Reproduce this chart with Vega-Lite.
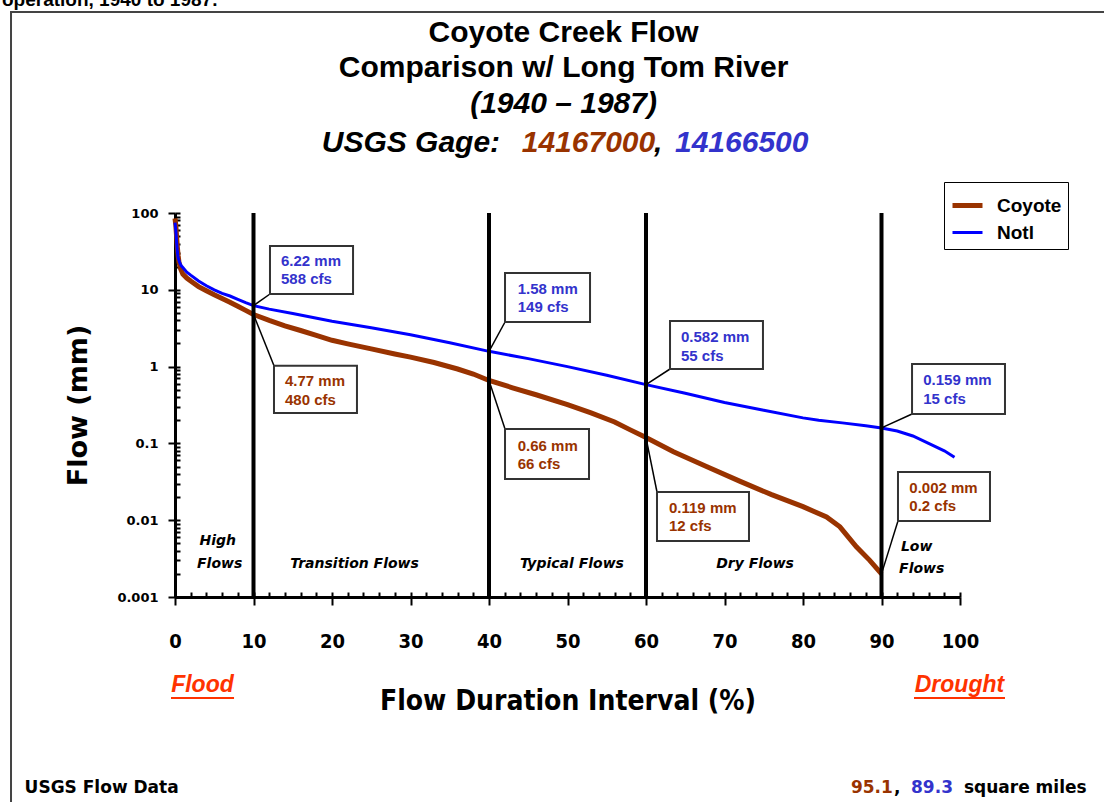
{
  "$schema": "https://vega.github.io/schema/vega-lite/v6.json",
  "width": 785,
  "height": 384,
  "autosize": {"type": "none"},
  "padding": {"left": 175, "top": 213, "right": 144, "bottom": 205},
  "background": "white",
  "config": {"view": {"stroke": null}, "axis": {"grid": false}},
  "resolve": {"axis": {"x": "independent", "y": "independent"}},
  "datasets": {
    "curves": [
      {"series": "Coyote", "pct": 0, "flow": 85}, {"series": "Coyote", "pct": 0.1, "flow": 70}, {"series": "Coyote", "pct": 0.2, "flow": 50}, {"series": "Coyote", "pct": 0.3, "flow": 36}, {"series": "Coyote", "pct": 0.4, "flow": 28}, {"series": "Coyote", "pct": 0.5, "flow": 23}, {"series": "Coyote", "pct": 0.7, "flow": 19}, {"series": "Coyote", "pct": 1, "flow": 16}, {"series": "Coyote", "pct": 1.5, "flow": 14.2}, {"series": "Coyote", "pct": 2, "flow": 13}, {"series": "Coyote", "pct": 3, "flow": 11}, {"series": "Coyote", "pct": 4, "flow": 9.7}, {"series": "Coyote", "pct": 5, "flow": 8.6}, {"series": "Coyote", "pct": 6, "flow": 7.7}, {"series": "Coyote", "pct": 7, "flow": 6.9}, {"series": "Coyote", "pct": 8, "flow": 6.1}, {"series": "Coyote", "pct": 9, "flow": 5.4}, {"series": "Coyote", "pct": 10, "flow": 4.77}, {"series": "Coyote", "pct": 12, "flow": 4.0}, {"series": "Coyote", "pct": 14, "flow": 3.4}, {"series": "Coyote", "pct": 16, "flow": 2.95}, {"series": "Coyote", "pct": 18, "flow": 2.55}, {"series": "Coyote", "pct": 20, "flow": 2.2}, {"series": "Coyote", "pct": 22, "flow": 1.98}, {"series": "Coyote", "pct": 25, "flow": 1.7}, {"series": "Coyote", "pct": 28, "flow": 1.46}, {"series": "Coyote", "pct": 30, "flow": 1.33}, {"series": "Coyote", "pct": 33, "flow": 1.13}, {"series": "Coyote", "pct": 36, "flow": 0.93}, {"series": "Coyote", "pct": 38, "flow": 0.8}, {"series": "Coyote", "pct": 40, "flow": 0.66}, {"series": "Coyote", "pct": 43, "flow": 0.53}, {"series": "Coyote", "pct": 46, "flow": 0.43}, {"series": "Coyote", "pct": 50, "flow": 0.32}, {"series": "Coyote", "pct": 53, "flow": 0.25}, {"series": "Coyote", "pct": 56, "flow": 0.19}, {"series": "Coyote", "pct": 58, "flow": 0.15}, {"series": "Coyote", "pct": 60, "flow": 0.119}, {"series": "Coyote", "pct": 63.5, "flow": 0.078}, {"series": "Coyote", "pct": 67.7, "flow": 0.05}, {"series": "Coyote", "pct": 72, "flow": 0.032}, {"series": "Coyote", "pct": 76, "flow": 0.0215}, {"series": "Coyote", "pct": 80, "flow": 0.015}, {"series": "Coyote", "pct": 83, "flow": 0.011}, {"series": "Coyote", "pct": 84.7, "flow": 0.0082}, {"series": "Coyote", "pct": 86.8, "flow": 0.0045}, {"series": "Coyote", "pct": 88.5, "flow": 0.003}, {"series": "Coyote", "pct": 90, "flow": 0.002},
      {"series": "Notl", "pct": 0, "flow": 75}, {"series": "Notl", "pct": 0.1, "flow": 60}, {"series": "Notl", "pct": 0.2, "flow": 42}, {"series": "Notl", "pct": 0.3, "flow": 31}, {"series": "Notl", "pct": 0.4, "flow": 26}, {"series": "Notl", "pct": 0.6, "flow": 22.5}, {"series": "Notl", "pct": 0.8, "flow": 20.5}, {"series": "Notl", "pct": 1, "flow": 19.5}, {"series": "Notl", "pct": 1.5, "flow": 17}, {"series": "Notl", "pct": 2, "flow": 15.5}, {"series": "Notl", "pct": 3, "flow": 13}, {"series": "Notl", "pct": 4, "flow": 11.3}, {"series": "Notl", "pct": 5, "flow": 10}, {"series": "Notl", "pct": 6, "flow": 9}, {"series": "Notl", "pct": 7, "flow": 8.3}, {"series": "Notl", "pct": 8, "flow": 7.5}, {"series": "Notl", "pct": 9, "flow": 6.8}, {"series": "Notl", "pct": 10, "flow": 6.22}, {"series": "Notl", "pct": 12, "flow": 5.6}, {"series": "Notl", "pct": 15, "flow": 4.9}, {"series": "Notl", "pct": 20, "flow": 3.9}, {"series": "Notl", "pct": 25, "flow": 3.2}, {"series": "Notl", "pct": 30, "flow": 2.6}, {"series": "Notl", "pct": 35, "flow": 2.05}, {"series": "Notl", "pct": 40, "flow": 1.58}, {"series": "Notl", "pct": 45, "flow": 1.27}, {"series": "Notl", "pct": 50, "flow": 1.0}, {"series": "Notl", "pct": 55, "flow": 0.77}, {"series": "Notl", "pct": 60, "flow": 0.582}, {"series": "Notl", "pct": 65, "flow": 0.45}, {"series": "Notl", "pct": 70, "flow": 0.34}, {"series": "Notl", "pct": 75, "flow": 0.27}, {"series": "Notl", "pct": 80, "flow": 0.215}, {"series": "Notl", "pct": 82, "flow": 0.2}, {"series": "Notl", "pct": 85, "flow": 0.185}, {"series": "Notl", "pct": 88, "flow": 0.17}, {"series": "Notl", "pct": 90, "flow": 0.159}, {"series": "Notl", "pct": 92, "flow": 0.145}, {"series": "Notl", "pct": 94, "flow": 0.125}, {"series": "Notl", "pct": 96, "flow": 0.1}, {"series": "Notl", "pct": 98, "flow": 0.08}, {"series": "Notl", "pct": 99.3, "flow": 0.066}
    ],
    "zones": [{"pct": 10}, {"pct": 40}, {"pct": 60}, {"pct": 90}],
    "callouts": [
      {"series": "Notl", "pct": 10, "flow": 6.22, "bx1": 12.1, "bx2": 22.68, "by1": 37.18, "by2": 8.818, "lx": 12.1, "ly": 8.818, "tx": 13.5, "t1y": 23.71, "t2y": 13.82, "line1": "6.22 mm", "line2": "588 cfs"},
      {"series": "Coyote", "pct": 10, "flow": 4.77, "bx1": 12.61, "bx2": 23.18, "by1": 1.028, "by2": 0.249, "lx": 12.61, "ly": 1.028, "tx": 14.01, "t1y": 0.6494, "t2y": 0.3673, "line1": "4.77 mm", "line2": "480 cfs"},
      {"series": "Notl", "pct": 40, "flow": 1.58, "bx1": 42.04, "bx2": 52.87, "by1": 16.55, "by2": 3.808, "lx": 42.04, "ly": 3.808, "tx": 43.66, "t1y": 10.15, "t2y": 5.917, "line1": "1.58 mm", "line2": "149 cfs"},
      {"series": "Coyote", "pct": 40, "flow": 0.66, "bx1": 42.04, "bx2": 52.74, "by1": 0.154, "by2": 0.0344, "lx": 42.04, "ly": 0.154, "tx": 43.66, "t1y": 0.0925, "t2y": 0.05393, "line1": "0.66 mm", "line2": "66 cfs"},
      {"series": "Notl", "pct": 60, "flow": 0.582, "bx1": 63.06, "bx2": 74.9, "by1": 3.925, "by2": 0.9306, "lx": 63.06, "ly": 0.9306, "tx": 64.46, "t1y": 2.407, "t2y": 1.387, "line1": "0.582 mm", "line2": "55 cfs"},
      {"series": "Coyote", "pct": 60, "flow": 0.119, "bx1": 61.4, "bx2": 73.12, "by1": 0.02329, "by2": 0.00536, "lx": 61.4, "ly": 0.02329, "tx": 62.93, "t1y": 0.01442, "t2y": 0.008405, "line1": "0.119 mm", "line2": "12 cfs"},
      {"series": "Notl", "pct": 90, "flow": 0.159, "bx1": 93.89, "bx2": 105.73, "by1": 1.081, "by2": 0.2415, "lx": 93.89, "ly": 0.2415, "tx": 95.32, "t1y": 0.669, "t2y": 0.3786, "line1": "0.159 mm", "line2": "15 cfs"},
      {"series": "Coyote", "pct": 90, "flow": 0.002, "bx1": 92.1, "bx2": 103.82, "by1": 0.04242, "by2": 0.009763, "lx": 92.1, "ly": 0.009763, "tx": 93.54, "t1y": 0.02603, "t2y": 0.01531, "line1": "0.002 mm", "line2": "0.2 cfs"}
    ],
    "regions": [
      {"text": "High", "pct": 5.44, "flow": 0.00536},
      {"text": "Flows", "pct": 5.69, "flow": 0.00272},
      {"text": "Transition Flows", "pct": 22.87, "flow": 0.00269},
      {"text": "Typical Flows", "pct": 50.57, "flow": 0.00269},
      {"text": "Dry Flows", "pct": 73.89, "flow": 0.00269},
      {"text": "Low", "pct": 94.48, "flow": 0.00445},
      {"text": "Flows", "pct": 95.12, "flow": 0.00232}
    ],
    "ends": [
      {"text": "Flood", "pct": 3.5, "flow": 7.15e-5, "u1": -0.51, "u2": 7.52, "uy": 4.84e-5},
      {"text": "Drought", "pct": 99.93, "flow": 7.15e-5, "u1": 94.14, "u2": 105.73, "uy": 4.84e-5}
    ]
  },
  "layer": [
    {
      "data": {"values": [{"x1": -20.89, "x2": 119.1, "y1": 41420, "y2": 1.685e-6}]},
      "mark": {"type": "rect", "filled": false, "color": "#444444", "strokeWidth": 2},
      "encoding": {
        "x": {"field": "x1", "type": "quantitative", "axis": null},
        "x2": {"field": "x2"},
        "y": {"field": "y1", "type": "quantitative", "axis": null},
        "y2": {"field": "y2"}
      }
    },
    {
      "data": {"name": "curves"},
      "mark": {"type": "line", "interpolate": "linear"},
      "encoding": {
        "x": {
          "field": "pct", "type": "quantitative",
          "scale": {"domain": [0, 100], "nice": false, "zero": false},
          "axis": {
            "orient": "bottom", "values": [0, 10, 20, 30, 40, 50, 60, 70, 80, 90, 100],
            "tickSize": 8, "tickWidth": 2, "tickColor": "black",
            "domainColor": "black", "domainWidth": 3,
            "labelFont": "DejaVu Sans Condensed", "labelFontSize": 20, "labelFontWeight": "bold", "labelColor": "black",
            "labelPadding": 26, "labelFlush": false, "labelOverlap": false,
            "title": "Flow Duration Interval (%)", "titleFont": "DejaVu Sans Condensed", "titleFontSize": 28, "titleFontWeight": "bold", "titleColor": "black", "titlePadding": 36
          }
        },
        "y": {
          "field": "flow", "type": "quantitative",
          "scale": {"type": "log", "domain": [0.001, 100], "nice": false},
          "axis": {
            "orient": "left", "values": [0.001, 0.01, 0.1, 1, 10, 100], "format": "~g",
            "tickSize": 7, "tickWidth": 2, "tickColor": "black",
            "domainColor": "black", "domainWidth": 3,
            "labelFont": "DejaVu Sans", "labelFontSize": 13, "labelFontWeight": "bold", "labelColor": "black",
            "labelPadding": 10, "labelOverlap": false,
            "title": "Flow  (mm)", "titleFont": "DejaVu Sans", "titleFontSize": 27, "titleFontWeight": "bold", "titleColor": "black", "titlePadding": 24
          }
        },
        "color": {
          "field": "series", "type": "nominal",
          "scale": {"domain": ["Coyote", "Notl"], "range": ["#993300", "#0000FF"]},
          "legend": {
            "orient": "none", "legendX": 769, "legendY": -31, "title": null,
            "symbolType": "stroke", "symbolSize": 900,
            "labelFont": "Liberation Sans", "labelFontSize": 19, "labelFontWeight": "bold", "labelColor": "black",
            "labelOffset": 12, "rowPadding": 0, "padding": 6,
            "strokeColor": "black", "fillColor": "white"
          }
        },
        "strokeWidth": {
          "field": "series", "type": "nominal",
          "scale": {"type": "ordinal", "domain": ["Coyote", "Notl"], "range": [5, 3]}
        }
      }
    },
    {
      "data": {"name": "curves"},
      "mark": {"type": "point", "opacity": 0},
      "encoding": {
        "x": {
          "field": "pct", "type": "quantitative",
          "axis": {
            "orient": "bottom", "values": [0, 2, 4, 6, 8, 10, 12, 14, 16, 18, 20, 22, 24, 26, 28, 30, 32, 34, 36, 38, 40, 42, 44, 46, 48, 50, 52, 54, 56, 58, 60, 62, 64, 66, 68, 70, 72, 74, 76, 78, 80, 82, 84, 86, 88, 90, 92, 94, 96, 98, 100],
            "tickSize": -5, "tickWidth": 2, "tickColor": "black", "labels": false, "domain": false, "title": null
          }
        },
        "y": {
          "field": "flow", "type": "quantitative",
          "axis": {
            "orient": "left", "values": [0.001, 0.002, 0.003, 0.004, 0.005, 0.006, 0.007, 0.008, 0.009, 0.01, 0.02, 0.03, 0.04, 0.05, 0.06, 0.07, 0.08, 0.09, 0.1, 0.2, 0.3, 0.4, 0.5, 0.6, 0.7, 0.8, 0.9, 1, 2, 3, 4, 5, 6, 7, 8, 9, 10, 20, 30, 40, 50, 60, 70, 80, 90, 100],
            "tickSize": -5, "tickWidth": 2, "tickColor": "black", "labels": false, "domain": false, "title": null
          }
        }
      }
    },
    {
      "data": {"name": "zones"},
      "mark": {"type": "rule", "color": "black", "strokeWidth": 4},
      "encoding": {"x": {"field": "pct", "type": "quantitative", "axis": null}}
    },
    {
      "data": {"name": "callouts"},
      "mark": {"type": "rule", "color": "black", "strokeWidth": 1.5},
      "encoding": {
        "x": {"field": "pct", "type": "quantitative", "axis": null},
        "y": {"field": "flow", "type": "quantitative", "axis": null},
        "x2": {"field": "lx"},
        "y2": {"field": "ly"}
      }
    },
    {
      "data": {"name": "callouts"},
      "mark": {"type": "rect", "fill": "white", "stroke": "#333333", "strokeWidth": 2},
      "encoding": {
        "x": {"field": "bx1", "type": "quantitative", "axis": null},
        "x2": {"field": "bx2"},
        "y": {"field": "by1", "type": "quantitative", "axis": null},
        "y2": {"field": "by2"}
      }
    },
    {
      "data": {"name": "callouts"},
      "mark": {"type": "text", "align": "left", "baseline": "middle", "font": "Liberation Sans", "fontSize": 15, "fontWeight": "bold"},
      "encoding": {
        "x": {"field": "tx", "type": "quantitative", "axis": null},
        "y": {"field": "t1y", "type": "quantitative", "axis": null},
        "text": {"field": "line1"},
        "color": {"condition": {"test": "datum.series === 'Notl'", "value": "#3333CC"}, "value": "#993300"}
      }
    },
    {
      "data": {"name": "callouts"},
      "mark": {"type": "text", "align": "left", "baseline": "middle", "font": "Liberation Sans", "fontSize": 15, "fontWeight": "bold"},
      "encoding": {
        "x": {"field": "tx", "type": "quantitative", "axis": null},
        "y": {"field": "t2y", "type": "quantitative", "axis": null},
        "text": {"field": "line2"},
        "color": {"condition": {"test": "datum.series === 'Notl'", "value": "#3333CC"}, "value": "#993300"}
      }
    },
    {
      "data": {"name": "regions"},
      "mark": {"type": "text", "align": "center", "baseline": "middle", "font": "DejaVu Sans", "fontSize": 14, "fontWeight": "bold", "fontStyle": "italic", "color": "black"},
      "encoding": {
        "x": {"field": "pct", "type": "quantitative", "axis": null},
        "y": {"field": "flow", "type": "quantitative", "axis": null},
        "text": {"field": "text"}
      }
    },
    {
      "data": {"name": "ends"},
      "mark": {"type": "text", "align": "center", "baseline": "middle", "font": "Liberation Sans", "fontSize": 23, "fontWeight": "bold", "fontStyle": "italic", "color": "#FF3300"},
      "encoding": {
        "x": {"field": "pct", "type": "quantitative", "axis": null},
        "y": {"field": "flow", "type": "quantitative", "axis": null},
        "text": {"field": "text"}
      }
    },
    {
      "data": {"name": "ends"},
      "mark": {"type": "rule", "color": "#FF3300", "strokeWidth": 2},
      "encoding": {
        "x": {"field": "u1", "type": "quantitative", "axis": null},
        "x2": {"field": "u2"},
        "y": {"field": "uy", "type": "quantitative", "axis": null}
      }
    },
    {
      "data": {"values": [
        {"text": "Coyote Creek Flow", "pct": 49.5, "flow": 17000},
        {"text": "Comparison w/ Long Tom River", "pct": 49.5, "flow": 5953}
      ]},
      "mark": {"type": "text", "align": "center", "baseline": "alphabetic", "font": "Liberation Sans", "fontSize": 30, "fontWeight": "bold", "color": "black"},
      "encoding": {
        "x": {"field": "pct", "type": "quantitative", "axis": null},
        "y": {"field": "flow", "type": "quantitative", "axis": null},
        "text": {"field": "text"}
      }
    },
    {
      "data": {"values": [{"text": "(1940 – 1987)", "pct": 49.5, "flow": 1987}]},
      "mark": {"type": "text", "align": "center", "baseline": "alphabetic", "font": "Liberation Sans", "fontSize": 30, "fontWeight": "bold", "fontStyle": "italic", "color": "black"},
      "encoding": {
        "x": {"field": "pct", "type": "quantitative", "axis": null},
        "y": {"field": "flow", "type": "quantitative", "axis": null},
        "text": {"field": "text"}
      }
    },
    {
      "data": {"values": [
        {"text": "USGS Gage:", "pct": 18.69, "flow": 628.5},
        {"text": "14167000", "pct": 44.17, "flow": 628.5},
        {"text": ",", "pct": 61.02, "flow": 628.5},
        {"text": "14166500", "pct": 63.69, "flow": 628.5}
      ]},
      "mark": {"type": "text", "align": "left", "baseline": "alphabetic", "font": "Liberation Sans", "fontSize": 30, "fontWeight": "bold", "fontStyle": "italic"},
      "encoding": {
        "x": {"field": "pct", "type": "quantitative", "axis": null},
        "y": {"field": "flow", "type": "quantitative", "axis": null},
        "text": {"field": "text"},
        "color": {"condition": [
          {"test": "datum.text === '14167000'", "value": "#993300"},
          {"test": "datum.text === '14166500'", "value": "#3333CC"}
        ], "value": "black"}
      }
    },
    {
      "data": {"values": [
        {"text": "USGS Flow Data", "pct": -19.16, "flow": 3.258e-6},
        {"text": "95.1", "pct": 86.11, "flow": 3.258e-6},
        {"text": ",", "pct": 91.59, "flow": 3.258e-6},
        {"text": "89.3", "pct": 93.76, "flow": 3.258e-6},
        {"text": "square miles", "pct": 100.5, "flow": 3.258e-6}
      ]},
      "mark": {"type": "text", "align": "left", "baseline": "middle", "font": "DejaVu Sans", "fontSize": 17, "fontWeight": "bold"},
      "encoding": {
        "x": {"field": "pct", "type": "quantitative", "axis": null},
        "y": {"field": "flow", "type": "quantitative", "axis": null},
        "text": {"field": "text"},
        "color": {"condition": [
          {"test": "datum.text === '95.1'", "value": "#993300"},
          {"test": "datum.text === '89.3'", "value": "#3333CC"}
        ], "value": "black"}
      }
    },
    {
      "data": {"values": [{"text": "operation, 1940 to 1987.", "pct": -22.04, "flow": 49590}]},
      "mark": {"type": "text", "align": "left", "baseline": "alphabetic", "font": "Liberation Sans", "fontSize": 19, "fontWeight": "bold", "color": "black"},
      "encoding": {
        "x": {"field": "pct", "type": "quantitative", "axis": null},
        "y": {"field": "flow", "type": "quantitative", "axis": null},
        "text": {"field": "text"}
      }
    }
  ]
}
